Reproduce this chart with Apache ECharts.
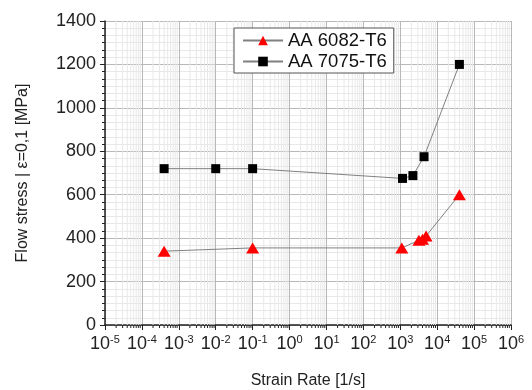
<!DOCTYPE html>
<html>
<head>
<meta charset="utf-8">
<script src="https://cdn.jsdelivr.net/npm/echarts@6/dist/echarts.min.js"></script>
<style>
  html, body { margin: 0; padding: 0; background: #fff; }
  #chart { width: 532px; height: 390px; }
</style>
</head>
<body>
<div id="chart"></div>
<script>
// AA 6082-T6 (red triangles)
const rate6082 = [4e-4, 0.1, 1.1e3, 3.2e3, 4e3, 5e3, 4e4];
const stress6082 = [340, 355, 355, 390, 395, 410, 600];

// AA 7075-T6 (black squares)
const rate7075 = [4e-4, 1e-2, 0.1, 1.15e3, 2.2e3, 4.4e3, 4e4];
const stress7075 = [720, 720, 720, 675, 688, 775, 1200];

const decadeExps = [-5, -4, -3, -2, -1, 0, 1, 2, 3, 4, 5];
const minorMult = [2, 3, 4, 5, 6, 7, 8, 9];
const yMin = 0;
const yMax = 1400;

const pairs = (xs, ys) => xs.map((x, i) => [x, ys[i]]);

// positions of the log minor grid lines (2..9 x 10^n)
const minorX = [];
decadeExps.forEach(e => {
  minorMult.forEach(m => {
    minorX.push([m * Math.pow(10, e), yMin]);
  });
});

const font = 'Liberation Sans, Arial, sans-serif';
const myChart = echarts.init(document.getElementById('chart'));

function renderMinor(params, api) {
  const x = api.value(0);
  const top = api.coord([x, yMax]);
  const bot = api.coord([x, yMin]);
  return {
    type: 'group',
    children: [
      {
        type: 'line',
        shape: { x1: top[0], y1: top[1], x2: bot[0], y2: bot[1] },
        style: { stroke: '#e8e8e8', lineWidth: 1 }
      },
      {
        type: 'line',
        shape: { x1: bot[0], y1: bot[1], x2: bot[0], y2: bot[1] + 3 },
        style: { stroke: '#222', lineWidth: 1 }
      }
    ]
  };
}

const option = {
  animation: false,
  textStyle: { fontFamily: font },
  grid: { left: 105, right: 21, top: 21, bottom: 65, outerBoundsMode: 'none', containLabel: false },
  legend: {
    orient: 'vertical',
    left: 234,
    top: 28,
    data: ['AA 6082-T6', 'AA 7075-T6'],
    backgroundColor: '#fff',
    borderColor: '#555',
    borderWidth: 1,
    borderRadius: 0,
    padding: [3, 7, 2, 8],
    itemGap: 2,
    itemWidth: 40,
    itemHeight: 12,
    textStyle: { fontSize: 18.5, color: '#111', fontFamily: font }
  },
  xAxis: {
    type: 'log',
    logBase: 10,
    min: 1e-5,
    max: 1e6,
    interval: 1,
    splitNumber: 11,
    name: 'Strain Rate [1/s]',
    nameLocation: 'middle',
    nameGap: 48,
    nameTextStyle: { fontSize: 16, color: '#222' },
    axisLine: { lineStyle: { color: '#222', width: 1.5 } },
    axisTick: { inside: false, length: 5, lineStyle: { color: '#222' } },
    axisLabel: {
      color: '#222',
      fontSize: 18,
      margin: 9,
      showMinLabel: true,
      showMaxLabel: true,
      hideOverlap: false,
      interval: 0,
      formatter: v => '10{sup|' + Math.round(Math.log10(v)) + '}',
      rich: {
        sup: { fontSize: 11, verticalAlign: 'bottom', padding: [0, 0, 10, 0], color: '#222' }
      }
    },
    splitLine: { show: true, lineStyle: { color: '#b8b8b8', width: 1 } }
  },
  yAxis: {
    type: 'value',
    min: yMin,
    max: yMax,
    interval: 200,
    name: 'Flow stress | \u03b5=0,1 [MPa]',
    nameLocation: 'middle',
    nameGap: 74,
    nameTextStyle: { fontSize: 16, color: '#222' },
    axisLine: { show: true, lineStyle: { color: '#222', width: 1.5 } },
    axisTick: { show: true, inside: false, length: 5, lineStyle: { color: '#222' } },
    minorTick: { show: true, splitNumber: 6, length: 3, lineStyle: { color: '#222' } },
    minorSplitLine: { show: true, lineStyle: { color: '#e8e8e8', width: 1 } },
    axisLabel: { color: '#222', fontSize: 18, margin: 9, formatter: v => String(v) },
    splitLine: { show: true, lineStyle: { color: '#b8b8b8', width: 1 } }
  },
  series: [
    {
      name: 'minorGrid',
      type: 'custom',
      data: minorX,
      silent: true,
      clip: false,
      z: 1,
      renderItem: renderMinor
    },
    {
      name: 'AA 6082-T6',
      type: 'line',
      data: pairs(rate6082, stress6082),
      symbol: 'triangle',
      symbolSize: [13, 11],
      itemStyle: { color: '#ff0000' },
      lineStyle: { color: '#808080', width: 1 },
      z: 3
    },
    {
      name: 'AA 7075-T6',
      type: 'line',
      data: pairs(rate7075, stress7075),
      symbol: 'rect',
      symbolSize: 9,
      itemStyle: { color: '#000' },
      lineStyle: { color: '#808080', width: 1 },
      z: 3
    }
  ]
};

myChart.setOption(option);
</script>
</body>
</html>
